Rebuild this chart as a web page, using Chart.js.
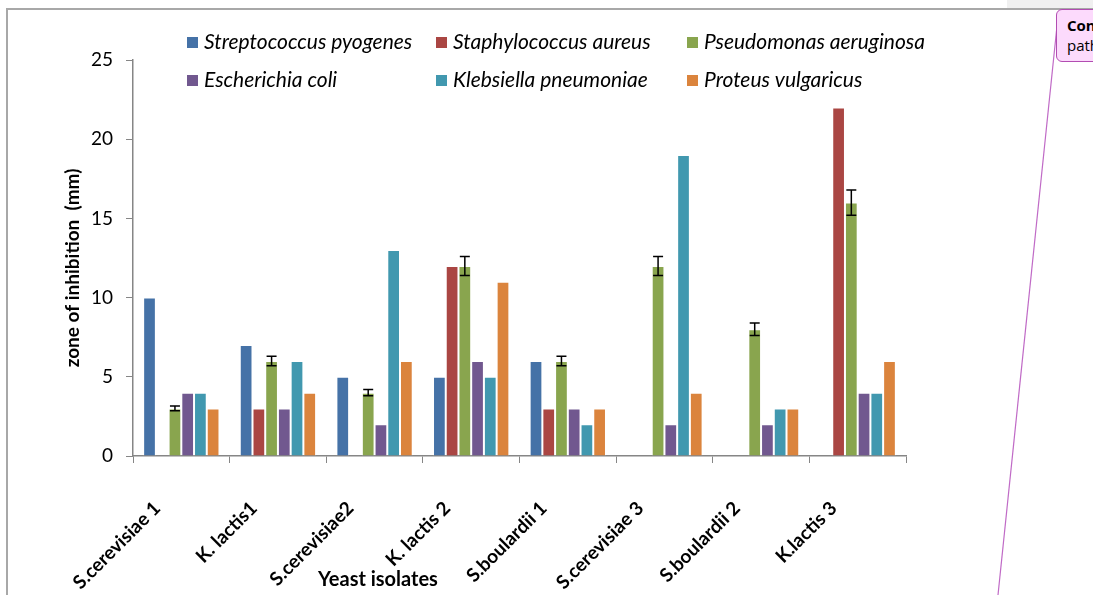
<!DOCTYPE html>
<html>
<head>
<meta charset="utf-8">
<script src="https://cdn.jsdelivr.net/npm/chart.js@4.4.1/dist/chart.umd.min.js"></script>
<style>
  html, body { margin: 0; padding: 0; background: #fff; overflow: hidden; }
  #wrap { position: relative; width: 1093px; height: 595px; overflow: hidden; }
  #frame { position: absolute; left: 6px; top: 8px; width: 1300px; height: 800px;
           border-left: 2px solid #a8a8a8; border-top: 2px solid #a8a8a8; }
  #band { position: absolute; left: 1007px; top: 0; width: 90px; height: 8px; background: #f0f0f0; }
  #chart { position: absolute; left: 0; top: 0; }
  #link { position: absolute; left: 0; top: 0; }
  #note { position: absolute; left: 1056px; top: 9px; width: 90px; height: 53px;
          background: #fcdafc; border: 1px solid #b24db2; border-radius: 6px;
          font-family: "Open Sans", sans-serif; font-size: 15px; line-height: 20px;
          padding: 5px 0 0 10px; box-sizing: border-box; color: #000; }
</style>
</head>
<body>
<div id="wrap">
  <div id="frame"></div>
  <div id="band"></div>
  <canvas id="chart" width="1093" height="595"></canvas>
  <svg id="link" width="1093" height="595">
    <line x1="1057" y1="26" x2="998" y2="595" stroke="#c06ac6" stroke-width="1.2"/>
  </svg>
  <div id="note"><b>Con</b><br>path</div>
</div>
<script>
// Données
const isolates = ["S.cerevisiae 1", "K. lactis1", "S.cerevisiae2", "K. lactis 2",
  "S.boulardii 1", "S.cerevisiae 3", "S.boulardii 2", "K.lactis 3"];
const streptococcus = [10, 7, 5, 5, 6, 0, 0, 0];
const staphylococcus = [0, 3, 0, 12, 3, 0, 0, 22];
const pseudomonas = [3, 6, 4, 12, 6, 12, 8, 16];
const pseudomonasErr = [0.15, 0.3, 0.2, 0.6, 0.3, 0.6, 0.4, 0.8];
const escherichia = [4, 3, 2, 6, 3, 2, 2, 4];
const klebsiella = [4, 6, 13, 5, 2, 19, 3, 4];
const proteus = [3, 4, 6, 11, 3, 4, 3, 6];
const yTicks = [0, 5, 10, 15, 20, 25];

const series = [
  { label: "Streptococcus pyogenes", data: streptococcus, color: "#4572a7" },
  { label: "Staphylococcus aureus", data: staphylococcus, color: "#aa4643" },
  { label: "Pseudomonas aeruginosa", data: pseudomonas, color: "#89a54e" },
  { label: "Escherichia coli", data: escherichia, color: "#71588f" },
  { label: "Klebsiella pneumoniae", data: klebsiella, color: "#4198af" },
  { label: "Proteus vulgaricus", data: proteus, color: "#db843d" },
];

const axisGrey = "#868686";

// barres d'erreur sur Pseudomonas
const errorBars = {
  id: "errorBars",
  afterDatasetsDraw(chart) {
    const ctx = chart.ctx;
    const meta = chart.getDatasetMeta(2);
    const y = chart.scales.y;
    ctx.save();
    ctx.strokeStyle = "#000";
    ctx.lineWidth = 1.5;
    meta.data.forEach((bar, i) => {
      const top = y.getPixelForValue(pseudomonas[i] + pseudomonasErr[i]);
      const bot = y.getPixelForValue(pseudomonas[i] - pseudomonasErr[i]);
      ctx.beginPath();
      ctx.moveTo(bar.x, top); ctx.lineTo(bar.x, bot);
      ctx.moveTo(bar.x - 5, top); ctx.lineTo(bar.x + 5, top);
      ctx.moveTo(bar.x - 5, bot); ctx.lineTo(bar.x + 5, bot);
      ctx.stroke();
    });
    ctx.restore();
  },
};

// légende sur deux lignes + titres d'axes
const legendAndTitles = {
  id: "legendAndTitles",
  afterDraw(chart) {
    const ctx = chart.ctx;
    const cols = [187, 436, 687];
    const rows = [42, 80];
    ctx.save();
    ctx.textBaseline = "middle";
    chart.data.datasets.forEach((ds, i) => {
      const x = cols[i % 3];
      const y = rows[Math.floor(i / 3)];
      ctx.fillStyle = ds.backgroundColor;
      ctx.fillRect(x, y - 5, 11, 11);
      ctx.fillStyle = "#000";
      ctx.font = "italic 21px Lato";
      ctx.textAlign = "left";
      ctx.fillText(ds.label, x + 17, y);
    });

    ctx.font = "bold 20px Lato";
    ctx.textAlign = "center";
    ctx.fillText("Yeast isolates", 378, 580);

    ctx.font = "bold 19px Lato";
    ctx.translate(73, 268);
    ctx.rotate(-Math.PI / 2);
    ctx.fillText("zone of inhibition  (mm)", 0, 0);
    ctx.restore();
  },
};

const chart = new Chart(document.getElementById("chart"), {
  type: "bar",
  data: {
    labels: isolates,
    datasets: series.map((s) => ({
      label: s.label,
      data: s.data,
      backgroundColor: s.color,
      borderColor: "rgba(255,255,255,0.45)",
      borderWidth: (c) => (c.raw ? 1 : 0),
      barPercentage: 1,
      categoryPercentage: 0.79,
    })),
  },
  options: {
    responsive: false,
    animation: false,
    layout: { padding: { top: 60, right: 187, left: 0, bottom: 0 } },
    plugins: {
      legend: { display: false },
      tooltip: { enabled: false },
    },
    scales: {
      x: {
        grid: { offset: true, drawOnChartArea: false, tickLength: 7, color: axisGrey },
        border: { color: axisGrey, width: 1.5 },
        ticks: {
          minRotation: 45,
          maxRotation: 45,
          autoSkip: false,
          color: "#000",
          padding: 34,
          labelOffset: -24,
          font: { family: "Lato", size: 19, weight: "bold" },
        },
        afterFit: (s) => { s.height = 139; },
      },
      y: {
        min: 0,
        max: 25,
        afterBuildTicks: (s) => { s.ticks = yTicks.map((v) => ({ value: v })); },
        grid: { drawOnChartArea: false, tickLength: 7, color: axisGrey },
        border: { color: axisGrey, width: 1.5 },
        ticks: {
          color: "#000",
          padding: 13,
          font: { family: "Lato", size: 19 },
        },
        afterFit: (s) => { s.width = 133; },
      },
    },
  },
  plugins: [errorBars, legendAndTitles],
});
</script>
</body>
</html>
